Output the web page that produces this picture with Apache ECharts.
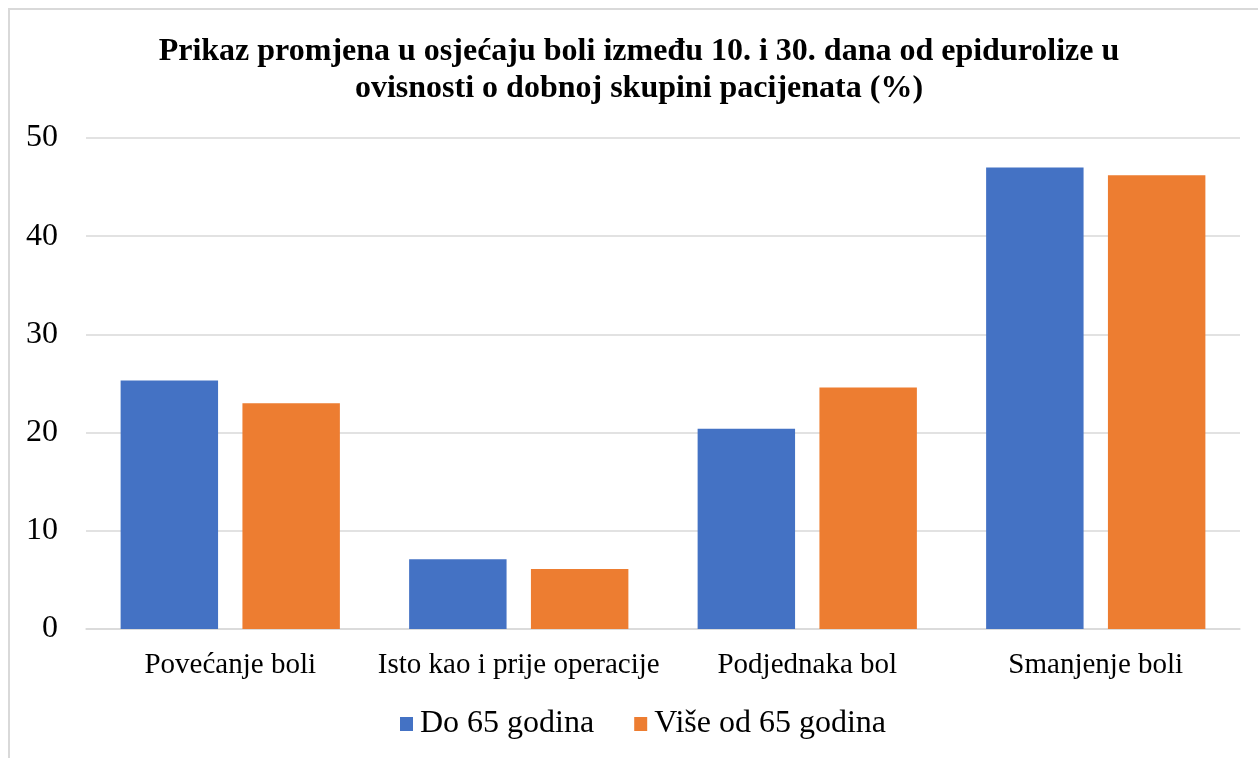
<!DOCTYPE html>
<html>
<head>
<meta charset="utf-8">
<script src="https://cdn.jsdelivr.net/npm/echarts@6/dist/echarts.min.js"></script>
<style>
  html, body { margin: 0; padding: 0; background: #fff; }
  #chart { position: absolute; left: 0; top: 0; width: 1258px; height: 758px; }
  #frame { position: absolute; left: 8px; top: 8px; width: 1250px; height: 750px;
           border-left: 2px solid #d9d9d9; border-top: 2px solid #d9d9d9; pointer-events: none; }
</style>
</head>
<body>
<div id="chart"></div>
<div id="frame"></div>
<script>
const categories = ['Povećanje boli', 'Isto kao i prije operacije', 'Podjednaka bol', 'Smanjenje boli'];
const seriesNames = ['Do 65 godina', 'Više od 65 godina'];
const under65 = [25.3, 7.1, 20.4, 47.0];
const over65 = [23.0, 6.1, 24.6, 46.2];

const FONT = '"Liberation Serif", "Times New Roman", serif';
const GRID = '#d9d9d9';

const chart = echarts.init(document.getElementById('chart'));
chart.setOption({
  animation: false,
  backgroundColor: '#fff',
  color: ['#4472C4', '#ED7D31'],
  title: {
    text: 'Prikaz promjena u osjećaju boli između 10. i 30. dana od epidurolize u\novisnosti o dobnoj skupini pacijenata (%)',
    left: 634,
    top: 28,
    textAlign: 'center',
    textStyle: { fontFamily: FONT, fontWeight: 'bold', fontSize: 32, lineHeight: 37, color: '#000' },
  },
  grid: { left: 86, right: 18, top: 138, bottom: 129, containLabel: false },
  legend: {
    data: seriesNames,
    top: 703,
    left: 395,
    icon: 'rect',
    itemWidth: 13,
    itemHeight: 14,
    itemGap: 40,
    textStyle: { fontFamily: FONT, fontSize: 32, color: '#000', padding: [0, 0, 0, 2] },
  },
  xAxis: {
    type: 'category',
    data: categories,
    axisLine: { lineStyle: { color: GRID, width: 1.5 } },
    axisTick: { show: false },
    axisLabel: { fontFamily: FONT, fontSize: 29, color: '#000', margin: 22, interval: 0 },
  },
  yAxis: {
    type: 'value',
    min: 0,
    max: 50,
    interval: 10,
    axisLine: { show: false },
    axisTick: { show: false },
    splitLine: { lineStyle: { color: GRID, width: 1.5 } },
    axisLabel: { fontFamily: FONT, fontSize: 32, color: '#000', margin: 28 },
  },
  series: [
    { name: seriesNames[0], type: 'bar', data: under65, barGap: '25%', barCategoryGap: '24%' },
    { name: seriesNames[1], type: 'bar', data: over65, barGap: '25%', barCategoryGap: '24%' },
  ],
});
</script>
</body>
</html>
